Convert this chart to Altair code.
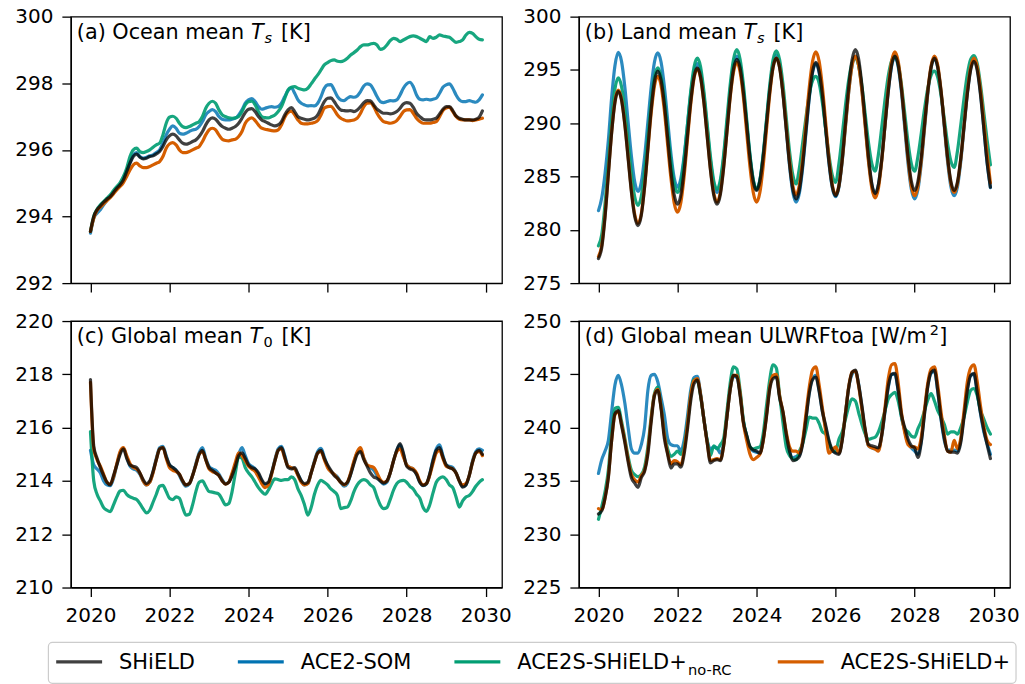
import altair as alt
import pandas as pd

MONTHS = [2020 + i / 12 for i in range(120)]
SERIES = ["SHiELD", "ACE2-SOM", "ACE2S-SHiELD+no-RC", "ACE2S-SHiELD+"]
COLORS = ["#000000", "#0173b2", "#029e73", "#d55e00"]
OPAC = [0.75, 1.0, 1.0, 1.0]
DRAW_ORDER = ["ACE2-SOM", "ACE2S-SHiELD+no-RC", "ACE2S-SHiELD+", "SHiELD"]
X_TICKS = [2020, 2022, 2024, 2026, 2028, 2030]

# ---------------- (a) Ocean mean Ts ----------------
OCEAN_SHIELD = [
    293.55, 294.0, 294.2, 294.32, 294.43, 294.52, 294.6, 294.72, 294.85, 294.95, 295.1, 295.35,
    295.6, 295.8, 295.87, 295.78, 295.73, 295.75, 295.8, 295.82, 295.88, 295.95, 296.1, 296.3,
    296.42, 296.47, 296.42, 296.3, 296.2, 296.17, 296.2, 296.25, 296.3, 296.4, 296.55, 296.75,
    296.9, 296.96, 296.92, 296.8, 296.7, 296.65, 296.62, 296.65, 296.7, 296.8, 296.95, 297.12,
    297.22, 297.24, 297.15, 297.0, 296.9, 296.85, 296.8, 296.75, 296.72, 296.75, 296.85, 297.05,
    297.2, 297.27, 297.15, 297.0, 296.95, 296.92, 296.9, 296.92, 296.95, 297.05, 297.25, 297.45,
    297.55, 297.56, 297.45, 297.3, 297.2, 297.18, 297.17, 297.18, 297.15, 297.2, 297.3, 297.42,
    297.48, 297.47, 297.35, 297.22, 297.15, 297.1, 297.1, 297.08, 297.1, 297.15, 297.25, 297.38,
    297.42, 297.4, 297.28, 297.1, 297.0, 296.92, 296.9, 296.9, 296.92, 296.95, 297.08, 297.22,
    297.3, 297.3, 297.18, 297.02, 296.95, 296.92, 296.9, 296.9, 296.9, 296.92, 296.98, 297.17,
]
OCEAN_SOM = [
    293.5, 293.95, 294.1, 294.2, 294.35, 294.48, 294.6, 294.72, 294.85, 294.95, 295.1, 295.35,
    295.62, 295.85, 295.92, 295.8, 295.75, 295.78, 295.82, 295.85, 295.92, 296.0, 296.2, 296.45,
    296.62, 296.72, 296.65, 296.5, 296.47, 296.5, 296.55, 296.6, 296.62, 296.7, 296.85, 297.05,
    297.15, 297.21, 297.15, 297.0, 296.92, 296.9, 296.9, 296.92, 296.95, 297.05, 297.2, 297.4,
    297.5, 297.54, 297.45, 297.3, 297.22, 297.25, 297.28, 297.3, 297.28, 297.3, 297.4, 297.6,
    297.78, 297.86, 297.7, 297.5, 297.4, 297.35, 297.32, 297.33, 297.32, 297.4, 297.6, 297.85,
    297.95, 297.96, 297.8, 297.6, 297.5, 297.48, 297.55, 297.6, 297.58, 297.62, 297.75, 297.92,
    297.98, 297.95, 297.8, 297.6, 297.45, 297.42, 297.45, 297.48, 297.47, 297.5, 297.65, 297.85,
    297.98, 298.03, 297.9, 297.65, 297.52, 297.5, 297.52, 297.5, 297.52, 297.55, 297.7, 297.88,
    297.95, 297.98, 297.85, 297.65, 297.5, 297.45, 297.45, 297.48, 297.45, 297.43, 297.5, 297.65,
]
OCEAN_NORC = [
    293.55, 294.0, 294.22, 294.35, 294.45, 294.55, 294.65, 294.78, 294.9, 295.02, 295.2, 295.45,
    295.8, 296.0, 296.05, 295.95, 295.92, 295.95, 296.0, 296.08, 296.15, 296.2, 296.45, 296.8,
    296.98, 297.01, 296.95, 296.8, 296.7, 296.67, 296.7, 296.75, 296.8, 296.85, 297.0, 297.25,
    297.4, 297.46, 297.4, 297.2, 297.05, 297.0, 296.96, 296.95, 296.96, 297.0, 297.15, 297.35,
    297.45, 297.46, 297.35, 297.15, 297.0, 296.97, 296.96, 297.0, 297.05, 297.15, 297.3, 297.55,
    297.8, 297.88, 297.9, 297.85, 297.82, 297.8, 297.85, 297.98, 298.12, 298.25, 298.4, 298.55,
    298.62, 298.68, 298.7, 298.66, 298.65, 298.68, 298.75, 298.85, 298.92, 299.0, 299.1, 299.15,
    299.15, 299.18, 299.2, 299.15, 299.02, 299.05, 299.15, 299.28, 299.35, 299.32, 299.25, 299.3,
    299.35, 299.4, 299.42, 299.4, 299.35, 299.3, 299.25, 299.4, 299.35, 299.38, 299.45, 299.42,
    299.4, 299.38, 299.3, 299.23, 299.25, 299.3, 299.45, 299.53, 299.5, 299.4, 299.32, 299.3,
]
OCEAN_PLUS = [
    293.55, 293.95, 294.18, 294.28, 294.38, 294.48, 294.57, 294.68, 294.8, 294.9, 295.02, 295.2,
    295.4, 295.55, 295.6, 295.52, 295.47, 295.47, 295.5, 295.55, 295.6, 295.65, 295.8, 296.05,
    296.18, 296.22, 296.15, 296.0, 295.92, 295.92, 295.95, 296.0, 296.05, 296.1, 296.25, 296.45,
    296.6, 296.65, 296.6, 296.45, 296.32, 296.28, 296.27, 296.3, 296.32, 296.4, 296.55, 296.8,
    296.92, 296.96, 296.88, 296.75, 296.65, 296.62, 296.6, 296.58, 296.57, 296.6, 296.75, 296.98,
    297.12, 297.16, 297.05, 296.9, 296.8, 296.78, 296.78, 296.8, 296.82, 296.88, 297.05, 297.25,
    297.3, 297.31, 297.2, 297.05, 296.95, 296.9, 296.87, 296.88, 296.9, 296.95, 297.1, 297.3,
    297.4, 297.41, 297.3, 297.1, 296.95, 296.85, 296.82, 296.8, 296.82, 296.88, 297.0, 297.15,
    297.2, 297.21, 297.1, 296.95, 296.85, 296.8, 296.8, 296.8, 296.82, 296.85, 297.0, 297.18,
    297.26, 297.28, 297.15, 297.0, 296.92, 296.9, 296.9, 296.9, 296.88, 296.9, 296.92, 296.95,
]

# ---------------- (b) Land mean Ts ----------------
LAND_SHIELD = [
    277.3, 278.35, 281.2, 285.15, 289.1, 291.95, 293.0, 292.15, 289.85, 286.7, 283.55, 281.25,
    280.4, 281.35, 284.0, 287.65, 291.3, 293.95, 294.9, 294.05, 291.8, 288.65, 285.5, 283.25,
    282.4, 283.25, 285.6, 288.8, 292.0, 294.35, 295.2, 294.35, 292.0, 288.8, 285.6, 283.25,
    282.4, 283.3, 285.8, 289.2, 292.6, 295.1, 296.0, 295.2, 292.9, 289.85, 286.75, 284.5,
    283.7, 284.55, 286.8, 289.9, 293.0, 295.25, 296.1, 295.2, 292.8, 289.5, 286.2, 283.8,
    282.9, 283.75, 286.1, 289.3, 292.5, 294.85, 295.7, 294.85, 292.6, 289.45, 286.3, 284.05,
    283.2, 284.1, 286.6, 290.05, 293.45, 295.95, 296.9, 296.0, 293.5, 290.15, 286.8, 284.3,
    283.4, 284.25, 286.6, 289.85, 293.05, 295.45, 296.3, 295.45, 293.15, 290.0, 286.85, 284.55,
    283.7, 284.55, 286.8, 289.9, 293.0, 295.25, 296.1, 295.25, 293.0, 289.9, 286.8, 284.55,
    283.7, 284.5, 286.7, 289.75, 292.75, 295.0, 295.8, 294.95, 292.65, 289.5, 286.3, 284.0,
]
LAND_SOM = [
    281.8, 283.0, 285.3, 288.4, 292.4, 295.4, 296.65, 295.8, 293.4, 290.1, 286.9, 284.5,
    283.6, 284.45, 286.85, 290.1, 293.35, 295.75, 296.6, 295.75, 293.45, 290.3, 287.15, 284.85,
    284.0, 284.8, 286.9, 289.8, 292.7, 294.8, 295.6, 294.8, 292.6, 289.55, 286.5, 284.3,
    283.5, 284.35, 286.7, 289.9, 293.1, 295.45, 296.3, 295.45, 293.2, 290.05, 286.9, 284.65,
    283.8, 284.65, 286.95, 290.1, 293.25, 295.55, 296.4, 295.5, 292.95, 289.5, 286.05, 283.55,
    282.6, 283.45, 285.85, 289.1, 292.35, 294.75, 295.6, 294.75, 292.5, 289.35, 286.2, 283.95,
    283.1, 284.0, 286.4, 289.7, 293.0, 295.4, 296.3, 295.45, 293.1, 289.85, 286.6, 284.25,
    283.4, 284.25, 286.6, 289.8, 293.0, 295.35, 296.2, 295.3, 292.9, 289.55, 286.2, 283.8,
    282.9, 283.8, 286.2, 289.5, 292.8, 295.2, 296.1, 295.25, 292.9, 289.65, 286.4, 284.05,
    283.2, 284.05, 286.4, 289.6, 292.8, 295.15, 296.0, 295.15, 292.8, 289.55, 286.3, 283.95,
]
LAND_NORC = [
    278.5, 279.55, 282.45, 286.4, 290.3, 293.2, 294.25, 293.45, 291.25, 288.3, 285.3, 283.1,
    282.3, 283.15, 285.5, 288.75, 291.95, 294.35, 295.2, 294.4, 292.3, 289.35, 286.45, 284.3,
    283.5, 284.35, 286.65, 289.8, 292.95, 295.25, 296.1, 295.3, 293.0, 289.95, 286.85, 284.6,
    283.8, 284.7, 287.05, 290.35, 293.65, 296.0, 296.9, 296.0, 293.65, 290.35, 287.05, 284.7,
    283.8, 284.65, 287.05, 290.3, 293.55, 295.95, 296.8, 295.95, 293.7, 290.55, 287.4, 285.15,
    284.3, 285.8, 288.15, 290.55, 292.7, 294.0, 294.4, 293.75, 291.9, 289.4, 286.95, 285.1,
    284.45, 286.2, 288.85, 291.7, 294.1, 295.65, 296.1, 295.4, 293.45, 290.8, 288.15, 286.2,
    285.5, 287.1, 289.6, 292.2, 294.45, 295.85, 296.3, 295.6, 293.6, 290.9, 288.2, 286.2,
    285.5, 286.9, 289.05, 291.35, 293.3, 294.5, 294.9, 294.3, 292.65, 290.4, 288.1, 286.45,
    285.85, 287.4, 289.85, 292.35, 294.6, 296.0, 296.35, 295.6, 293.6, 291.0, 288.4, 286.1,
]
LAND_PLUS = [
    277.5, 278.55, 281.4, 285.3, 289.2, 292.05, 293.1, 292.25, 289.95, 286.85, 283.7, 281.45,
    280.6, 281.5, 284.05, 287.5, 290.95, 293.5, 294.4, 293.55, 291.2, 288.0, 284.85, 282.5,
    281.65, 282.55, 285.0, 288.4, 291.75, 294.2, 295.1, 294.25, 291.95, 288.85, 285.7, 283.45,
    282.6, 283.5, 285.9, 289.15, 292.45, 294.8, 295.7, 294.8, 292.45, 289.15, 285.9, 283.5,
    282.6, 283.5, 285.95, 289.35, 292.7, 295.2, 296.1, 295.25, 292.9, 289.7, 286.5, 284.15,
    283.3, 284.2, 286.65, 290.0, 293.35, 295.8, 296.7, 295.8, 293.35, 290.0, 286.65, 284.2,
    283.3, 284.15, 286.55, 289.8, 293.05, 295.45, 296.3, 295.4, 293.0, 289.65, 286.35, 283.9,
    283.0, 283.9, 286.45, 289.85, 293.3, 295.8, 296.7, 295.8, 293.35, 289.95, 286.6, 284.1,
    283.2, 284.1, 286.5, 289.75, 293.05, 295.4, 296.3, 295.45, 293.1, 289.9, 286.7, 284.35,
    283.5, 284.35, 286.65, 289.8, 292.95, 295.25, 296.1, 295.3, 293.1, 290.1, 287.1, 284.4,
]

# ---------------- (c) Global mean T0 ----------------
T0_SHIELD = [
    217.8, 215.3, 214.85, 214.5, 214.2, 213.95, 213.85, 214.2, 214.6, 215.0, 215.2, 214.85,
    214.6, 214.55, 214.5, 214.3, 214.05, 213.9, 214.0, 214.35, 214.8, 215.2, 215.25, 214.9,
    214.6, 214.5, 214.4, 214.25, 214.0, 213.85, 213.9, 214.2, 214.6, 215.0, 215.15, 214.8,
    214.5, 214.4, 214.3, 214.2, 214.0, 213.88, 213.95, 214.2, 214.55, 214.95, 215.05, 214.85,
    214.6, 214.5, 214.45, 214.3, 214.05, 213.9, 213.95, 214.3, 214.75, 215.15, 215.25, 214.9,
    214.5, 214.45, 214.5, 214.25, 214.0, 213.9, 213.95, 214.3, 214.7, 215.05, 215.15, 214.85,
    214.6, 214.4, 214.2, 214.1, 213.95, 213.87, 213.95, 214.25, 214.65, 215.0, 215.1, 214.8,
    214.55, 214.3, 214.15, 214.1, 214.0, 213.92, 214.0, 214.3, 214.75, 215.15, 215.4, 215.05,
    214.55, 214.45, 214.4, 214.25, 213.95, 213.83, 213.9, 214.25, 214.75, 215.15, 215.25, 214.9,
    214.6, 214.5, 214.45, 214.3, 214.0, 213.77, 213.85, 214.2, 214.7, 215.05, 215.15, 215.0,
]
T0_SOM = [
    215.15, 214.6, 214.45, 214.3, 214.0, 213.85, 213.82, 214.1, 214.6, 215.05, 215.22, 214.9,
    214.55, 214.45, 214.4, 214.25, 214.0, 213.85, 213.95, 214.35, 214.85, 215.25, 215.3, 214.95,
    214.6, 214.5, 214.4, 214.2, 213.95, 213.8, 213.88, 214.2, 214.65, 215.05, 215.25, 214.85,
    214.55, 214.45, 214.4, 214.25, 214.05, 213.9, 213.95, 214.25, 214.6, 215.0, 215.25, 214.95,
    214.65, 214.55, 214.45, 214.25, 214.0, 213.85, 213.9, 214.3, 214.8, 215.2, 215.3, 214.95,
    214.55, 214.5, 214.45, 214.25, 214.0, 213.85, 213.9, 214.3, 214.75, 215.1, 215.22, 214.9,
    214.55, 214.35, 214.25, 214.15, 213.95, 213.8, 213.9, 214.25, 214.7, 215.05, 215.15, 214.85,
    214.6, 214.5, 214.4, 214.2, 214.0, 213.88, 213.95, 214.3, 214.75, 215.15, 215.35, 215.0,
    214.6, 214.5, 214.45, 214.25, 213.95, 213.82, 213.88, 214.25, 214.8, 215.2, 215.35, 214.95,
    214.6, 214.55, 214.5, 214.3, 214.0, 213.8, 213.85, 214.2, 214.75, 215.1, 215.2, 215.15,
]
T0_NORC = [
    215.85, 214.0, 213.5, 213.25, 213.0, 212.9, 212.85, 213.1, 213.4, 213.62, 213.65, 213.5,
    213.4, 213.35, 213.3, 213.15, 212.95, 212.8, 212.9, 213.2, 213.5, 213.8, 213.83, 213.6,
    213.35, 213.3, 213.4, 213.35, 213.0, 212.72, 212.75, 213.1, 213.6, 213.95, 214.0, 213.8,
    213.6, 213.58, 213.55, 213.5, 213.3, 213.1, 213.15, 213.6, 214.3, 214.9, 214.85, 214.5,
    214.3, 214.15, 213.95, 213.75, 213.6, 213.5, 213.65, 213.9, 214.08, 214.05, 214.02, 214.05,
    214.05, 214.15, 214.05, 213.7, 213.45, 213.1, 212.72, 213.0, 213.5, 213.85, 214.02, 213.95,
    213.85, 213.7, 213.6, 213.45, 212.96, 213.0, 213.02, 213.25, 213.6, 213.85, 214.0, 214.05,
    214.0, 213.85, 213.75, 213.4, 213.1, 212.96, 213.0, 213.3, 213.65, 213.9, 214.0, 214.02,
    213.95, 213.8, 213.7, 213.5, 213.35, 213.0, 212.86, 213.1, 213.55, 213.95, 214.1, 214.15,
    214.05, 213.85, 213.75, 213.4, 213.02, 213.25, 213.4, 213.45, 213.6, 213.8, 213.95, 214.05,
]
T0_PLUS = [
    217.7, 215.2, 214.8, 214.55, 214.25, 213.95, 213.88, 214.15, 214.65, 215.1, 215.25, 214.95,
    214.65, 214.5, 214.45, 214.3, 214.0, 213.85, 213.95, 214.3, 214.8, 215.2, 215.25, 214.85,
    214.5, 214.4, 214.35, 214.25, 214.0, 213.85, 213.9, 214.2, 214.6, 215.0, 215.1, 214.8,
    214.45, 214.35, 214.3, 214.2, 214.0, 213.88, 213.95, 214.3, 214.7, 215.05, 214.95, 214.75,
    214.55, 214.45, 214.35, 214.15, 213.9, 213.75, 213.85, 214.25, 214.75, 215.15, 215.2, 214.85,
    214.55, 214.5, 214.45, 214.2, 213.95, 213.85, 213.9, 214.3, 214.7, 215.05, 215.1, 214.8,
    214.5, 214.35, 214.25, 214.1, 213.95, 213.85, 213.95, 214.3, 214.75, 215.1, 215.25, 214.85,
    214.6, 214.55, 214.5, 214.3, 214.05, 213.95, 214.0, 214.3, 214.75, 215.1, 215.2, 214.9,
    214.6, 214.5, 214.45, 214.3, 214.0, 213.85, 213.9, 214.2, 214.65, 215.05, 215.15, 214.85,
    214.55, 214.5, 214.45, 214.3, 214.0, 213.85, 213.9, 214.2, 214.7, 215.05, 215.1, 214.95,
]

# ---------------- (d) Global mean ULWRFtoa ----------------
ULW_SHIELD = [
    231.9, 232.2, 233.4, 235.3, 238.8, 241.3, 241.6, 240.2, 238.6, 236.8, 235.3, 234.8,
    234.4, 235.3, 235.9, 237.5, 240.5, 243.0, 243.5, 241.8, 239.0, 237.5, 236.2, 236.6,
    236.6, 236.3, 237.5, 239.8, 242.5, 244.1, 244.45, 243.0, 240.8, 238.6, 236.7, 236.9,
    237.0, 236.9, 238.3, 241.0, 243.6, 244.9, 244.8, 243.0, 240.5, 239.3, 238.2, 237.9,
    237.8, 237.6, 238.8, 241.0, 243.6, 244.6, 244.75, 242.8, 241.5, 239.4, 237.8, 236.9,
    237.0, 237.3, 238.5, 240.8, 243.2, 244.5, 244.75, 243.4, 241.5, 240.2, 238.8, 237.9,
    237.6, 237.5, 238.8, 241.3, 243.8, 245.2, 245.4, 244.0, 242.0, 239.8, 238.4, 238.3,
    238.2, 238.1, 239.3, 241.6, 243.9, 245.0, 245.1, 243.5, 241.2, 240.0, 238.9, 238.3,
    238.1, 237.2, 238.6, 241.3, 243.9, 245.2, 245.4, 243.5, 240.9, 239.0, 237.8, 237.7,
    237.7, 237.6, 238.6, 241.0, 243.5, 244.9, 245.1, 243.3, 241.4, 239.8, 238.4, 237.1,
]
ULW_SOM = [
    235.7, 237.0, 237.8, 238.8, 241.5, 244.0, 244.9, 244.0, 242.3, 240.0, 238.0, 237.6,
    237.6, 238.4, 240.0, 243.5, 244.9, 245.0, 244.3, 242.8, 241.2, 239.0, 238.4, 238.3,
    238.3, 237.8, 238.8, 241.0, 243.5, 244.7, 244.8, 243.2, 240.8, 238.8, 238.0, 238.2,
    238.1, 237.6, 238.5, 241.0, 243.6, 244.8, 244.7, 243.2, 240.6, 239.2, 238.1, 237.8,
    237.7, 237.6, 238.9, 241.3, 243.9, 244.8, 244.8, 242.9, 241.3, 239.3, 237.8, 237.2,
    237.3, 237.4, 238.6, 240.9, 243.3, 244.6, 244.9, 243.5, 241.5, 240.0, 238.6, 237.8,
    237.7, 237.6, 238.9, 241.4, 243.8, 245.0, 245.3, 244.1, 241.9, 239.6, 238.3, 238.1,
    238.0, 238.0, 239.2, 241.5, 243.8, 245.0, 245.0, 243.4, 241.0, 239.7, 238.6, 238.1,
    237.8, 237.5, 238.7, 241.4, 243.9, 245.1, 245.3, 243.4, 240.8, 238.8, 237.9, 237.9,
    237.9, 237.8, 238.8, 241.2, 243.6, 244.9, 245.0, 243.3, 241.3, 239.6, 238.5, 237.5,
]
ULW_NORC = [
    231.4, 232.6, 234.0, 236.0, 239.5, 241.8, 241.9, 240.6, 239.0, 237.3, 236.0, 235.6,
    235.4, 235.6, 236.3, 238.2, 241.0, 243.2, 243.8, 242.0, 239.5, 238.0, 237.3, 237.5,
    237.8, 237.5, 238.2, 240.4, 243.0, 244.5, 244.4, 243.0, 240.8, 238.8, 237.4, 238.3,
    238.0, 238.4, 239.0, 241.5, 244.2, 245.7, 245.5, 243.5, 240.7, 239.2, 238.2, 238.0,
    238.1, 238.2, 239.4, 242.0, 244.5, 245.9, 245.6, 243.0, 240.5, 238.2, 237.4, 237.1,
    237.0, 237.8, 238.5, 239.8, 241.0, 240.9, 240.9, 240.4, 239.6, 239.4, 238.5, 237.9,
    237.8, 238.9, 239.6, 240.8, 242.0, 242.7, 242.5, 241.4, 240.3, 239.4, 238.9, 239.0,
    239.1, 239.6, 240.5, 241.6, 242.7, 243.1, 243.3, 242.5, 241.0, 239.9, 239.6, 239.2,
    239.1, 239.9, 240.6, 241.6, 242.6, 243.2, 242.5, 241.6, 241.0, 240.3, 239.4, 239.6,
    239.6, 239.4, 240.0, 241.0, 242.4, 243.5, 243.67, 243.0, 241.6, 240.8, 240.0, 239.4,
]
ULW_PLUS = [
    232.4, 232.3, 233.4, 235.4, 238.8, 241.2, 241.5, 240.3, 238.8, 237.0, 235.6, 235.1,
    234.9, 235.5, 236.0, 237.8, 240.8, 243.1, 243.6, 241.9, 239.3, 237.6, 236.6, 236.9,
    236.8, 236.5, 237.8, 240.2, 243.0, 244.4, 244.6, 243.1, 240.8, 238.6, 236.9, 237.0,
    237.1, 237.0, 238.3, 241.0, 243.6, 244.9, 244.9, 243.2, 240.4, 238.8, 237.5, 237.0,
    237.2, 237.5, 238.7, 241.1, 243.8, 244.9, 245.0, 243.0, 241.5, 239.6, 238.2, 237.8,
    237.8, 237.6, 238.8, 241.3, 243.8, 245.4, 245.7, 244.0, 241.8, 239.6, 237.6, 237.9,
    238.2, 237.6, 238.9, 241.4, 243.9, 245.2, 245.3, 243.9, 241.7, 239.7, 238.3, 238.1,
    238.0, 237.8, 239.3, 241.9, 244.6, 245.9, 246.0, 244.2, 241.4, 239.5, 238.4, 238.2,
    238.2, 238.0, 239.1, 241.7, 244.2, 245.5, 245.7, 244.0, 241.5, 239.3, 237.8, 237.7,
    238.8, 238.0, 239.0, 241.6, 244.3, 245.6, 245.9, 244.3, 242.0, 240.1, 238.8, 238.4,
]

PANEL_DATA = {
    "a": {"SHiELD": OCEAN_SHIELD, "ACE2-SOM": OCEAN_SOM,
          "ACE2S-SHiELD+no-RC": OCEAN_NORC, "ACE2S-SHiELD+": OCEAN_PLUS},
    "b": {"SHiELD": LAND_SHIELD, "ACE2-SOM": LAND_SOM,
          "ACE2S-SHiELD+no-RC": LAND_NORC, "ACE2S-SHiELD+": LAND_PLUS},
    "c": {"SHiELD": T0_SHIELD, "ACE2-SOM": T0_SOM,
          "ACE2S-SHiELD+no-RC": T0_NORC, "ACE2S-SHiELD+": T0_PLUS},
    "d": {"SHiELD": ULW_SHIELD, "ACE2-SOM": ULW_SOM,
          "ACE2S-SHiELD+no-RC": ULW_NORC, "ACE2S-SHiELD+": ULW_PLUS},
}

# legend entries: (main label, subscript)
LEGEND_LABELS = [("SHiELD", ""), ("ACE2-SOM", ""), ("ACE2S-SHiELD+", "no-RC"), ("ACE2S-SHiELD+", "")]

FONT = "DejaVu Sans"
W, H = 432, 267


def frame(d):
    rows = []
    for s in DRAW_ORDER:
        for t, v in zip(MONTHS, d[s]):
            rows.append({"t": t, "v": v, "series": s})
    return pd.DataFrame(rows)


def one(s):
    return alt.Chart(pd.DataFrame({"s": [s]}))


def txt(s, x, y, size=20.8, italic=False):
    mk = dict(align="left", baseline="alphabetic", fontSize=size, font=FONT, color="black")
    if italic:
        mk["fontStyle"] = "italic"
    return one(s).mark_text(**mk).encode(text="s:N", x=alt.value(x), y=alt.value(y))


def legend_layers():
    # drawn in panel (c) coordinates (origin at panel c's plot top-left)
    layers = [
        one("box").mark_rect(fill="white", stroke="#cccccc", strokeWidth=1.2, cornerRadius=4)
        .encode(x=alt.value(-22.5), x2=alt.value(947), y=alt.value(322), y2=alt.value(363))
    ]
    sym_x = [-14.7, 167.3, 384.3, 708.3]
    for i, (name, (lab, sub)) in enumerate(zip(SERIES, LEGEND_LABELS)):
        layers.append(
            one(name).mark_rule(color=COLORS[i], opacity=OPAC[i], strokeWidth=3.2)
            .encode(x=alt.value(sym_x[i]), x2=alt.value(sym_x[i] + 46), y=alt.value(341.5))
        )
        layers.append(txt(lab, sym_x[i] + 63, 348.5, 21))
        if sub:
            layers.append(txt(sub, sym_x[i] + 63 + 171, 355, 14.7))
    return layers


def panel(key, ydom, yticks, pieces, xlabels, extra=()):
    df = frame(PANEL_DATA[key])
    x = alt.X("t:Q", scale=alt.Scale(domain=[2019.504, 2030.413], nice=False, zero=False),
              axis=alt.Axis(values=X_TICKS, format="d", labels=xlabels, title=None, grid=False,
                            labelFlush=False, labelOverlap=False))
    y = alt.Y("v:Q", scale=alt.Scale(domain=ydom, nice=False, zero=False),
              axis=alt.Axis(values=yticks, format="d", title=None, grid=False,
                            labelFlush=False, labelOverlap=False))
    color = alt.Color("series:N", scale=alt.Scale(domain=SERIES, range=COLORS), legend=None)
    opac = alt.Opacity("series:N", scale=alt.Scale(domain=SERIES, range=OPAC), legend=None)
    layers = []
    for s in DRAW_ORDER:
        layers.append(
            alt.Chart(df).transform_filter(alt.datum.series == s)
            .mark_line(strokeWidth=3.2, interpolate="monotone", strokeJoin="round", strokeCap="round")
            .encode(x=x, y=y, color=color, opacity=opac)
        )
    for p in pieces:
        layers.append(txt(*p))
    layers.extend(extra)
    return alt.layer(*layers).properties(width=W, height=H)


pa = panel("a", [292, 300], [292, 294, 296, 298, 300],
           [("(a) Ocean mean", 6, 22), ("T", 180.5, 22, 20.8, True),
            ("s", 194, 26.5, 14.5, True), ("[K]", 210.5, 22)], False)
pb = panel("b", [275, 300], [275, 280, 285, 290, 295, 300],
           [("(b) Land mean", 6, 22), ("T", 165, 22, 20.8, True),
            ("s", 178.5, 26.5, 14.5, True), ("[K]", 195, 22)], False)
pc = panel("c", [210, 220], [210, 212, 214, 216, 218, 220],
           [("(c) Global mean", 6, 22), ("T", 179, 22, 20.8, True),
            ("0", 193, 26.5, 14.5), ("[K]", 211, 22)], True, legend_layers())
pd_ = panel("d", [225, 250], [225, 230, 235, 240, 245, 250],
            [("(d) Global mean ULWRFtoa [W/m", 6, 22), ("2", 351.5, 13.5, 14.5),
             ("]", 361, 22)], True)

chart = alt.ConcatChart(
    concat=[pa, pb, pc, pd_], columns=2,
    spacing={"row": 38, "column": 77}, bounds="flush",
).properties(
    padding={"left": 14, "top": 5, "right": 5, "bottom": 0},
    background="white",
).configure(font=FONT).configure_view(
    stroke="black", strokeWidth=1.3
).configure_axis(
    domainColor="black", domainWidth=1.3, tickColor="black", tickWidth=1.3, tickSize=9,
    labelFont=FONT, labelFontSize=20, labelColor="black", labelPadding=9,
)

chart.save("out.html", embed_options={"renderer": "svg", "actions": False})
